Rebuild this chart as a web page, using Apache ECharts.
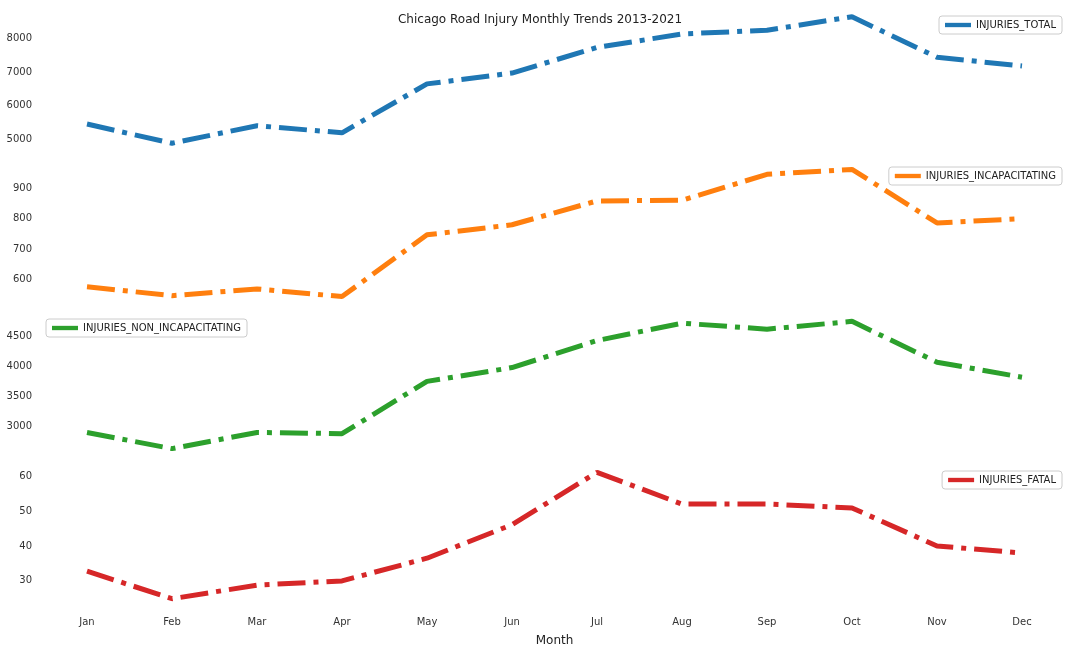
<!DOCTYPE html>
<html>
<head>
<meta charset="utf-8">
<script src="https://cdn.jsdelivr.net/npm/echarts@6/dist/echarts.min.js"></script>
<style>html,body{margin:0;background:#fff}#c{width:1080px;height:648px}</style>
</head>
<body>
<div id="c"></div>
<script>
var months = ['Jan','Feb','Mar','Apr','May','Jun','Jul','Aug','Sep','Oct','Nov','Dec'];
var injuriesTotal = [5460, 4890, 5410, 5200, 6650, 6970, 7730, 8130, 8240, 8640, 7440, 7180];
var injuriesIncap = [577, 548, 570, 545, 747, 780, 858, 860, 945, 961, 786, 800];
var injuriesNonIncap = [2900, 2630, 2900, 2880, 3750, 3980, 4430, 4720, 4620, 4750, 4070, 3820];
var injuriesFatal = [32.8, 24.9, 28.8, 30, 36.5, 46.1, 61.1, 52, 52, 50.9, 40, 38];

var names = ['INJURIES_TOTAL','INJURIES_INCAPACITATING','INJURIES_NON_INCAPACITATING','INJURIES_FATAL'];
var datas = [injuriesTotal, injuriesIncap, injuriesNonIncap, injuriesFatal];
var colors = ['#1f77b4','#ff7f0e','#2ca02c','#d62728'];
var steps = [1000, 100, 500, 10];
var ranges = [[4690, 8840], [524, 982], [2524, 4856], [23.1, 62.9]];
var tops = [10, 163, 315, 466];
var legendPos = [
  {right: 18, top: 16},
  {right: 18, top: 167},
  {left: 46, top: 319},
  {right: 18, top: 471}
];

var myChart = echarts.init(document.getElementById('c'));
var option = {
  animation: false,
  backgroundColor: '#fff',
  title: {
    text: 'Chicago Road Injury Monthly Trends 2013-2021',
    left: 'center', top: 9,
    textStyle: {fontSize: 12, fontWeight: 'normal', color: '#222', fontFamily: 'DejaVu Sans'}
  },
  grid: [], xAxis: [], yAxis: [], series: [], legend: []
};
for (var i = 0; i < 4; i++) {
  (function (i) {
    option.grid.push({left: 87, right: 58, top: tops[i], height: 140});
    option.xAxis.push({
      type: 'category', gridIndex: i, data: months, boundaryGap: false,
      axisLine: {show: false}, axisTick: {show: false}, splitLine: {show: false},
      axisLabel: {show: i === 3, color: '#333', fontSize: 10, margin: 12, fontFamily: 'DejaVu Sans'},
      name: i === 3 ? 'Month' : '', nameLocation: 'center', nameGap: 30,
      nameTextStyle: {fontSize: 12, color: '#222', fontFamily: 'DejaVu Sans'}
    });
    option.yAxis.push({
      type: 'value', gridIndex: i, min: ranges[i][0], max: ranges[i][1],
      axisLine: {show: false}, axisTick: {show: false}, splitLine: {show: false},
      axisLabel: {
        color: '#333', fontSize: 10, margin: 55, fontFamily: 'DejaVu Sans',
        formatter: function (v) {
          var r = Math.round(v);
          return (Math.abs(v - r) < 1e-6 && r % steps[i] === 0) ? String(r) : '';
        }
      }
    });
    option.series.push({
      name: names[i], type: 'line', xAxisIndex: i, yAxisIndex: i,
      data: datas[i], symbol: 'none', color: colors[i],
      lineStyle: {width: 5, type: [28, 8, 5, 8], color: colors[i]}
    });
    option.legend.push(Object.assign({
      data: [{name: names[i], icon: 'path://M0,0 L30,0 L30,5 L0,5 Z'}],
      orient: 'vertical', itemWidth: 26, itemHeight: 5, itemGap: 4,
      padding: [4, 6, 4, 6], borderColor: '#ccc', borderWidth: 1, borderRadius: 3,
      textStyle: {fontSize: 10, color: '#222', fontFamily: 'DejaVu Sans'}
    }, legendPos[i]));
  })(i);
}
myChart.setOption(option);
</script>
</body>
</html>
